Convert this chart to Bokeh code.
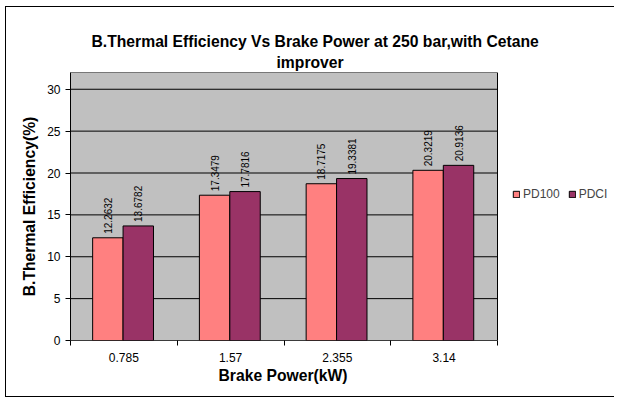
import math
from bokeh.plotting import figure
from bokeh.models import (ColumnDataSource, FixedTicker, Title, Legend, LegendItem,
                          Range1d)
from bokeh.core.properties import value
from bokeh.embed import file_html
from bokeh.resources import INLINE

categories = ["0.785", "1.57", "2.355", "3.14"]
pd100 = [12.2632, 17.3479, 18.7175, 20.3219]
pdci = [13.6782, 17.7816, 19.3381, 20.9136]
y_ticks = [0, 5, 10, 15, 20, 25, 30]
y_max = 32

BOLD_FONT = "Liberation Sans"
BOLD_SIZE = "15.7px"

n = len(categories)
PLOT_W = 427          # pixel width of the data area
EXTRA_W = 117         # room to the right for the legend
x_end = n * (PLOT_W + EXTRA_W) / PLOT_W

p = figure(frame_width=PLOT_W + EXTRA_W, frame_height=268, output_backend="svg",
           toolbar_location=None,
           x_range=Range1d(0, x_end), y_range=Range1d(0, y_max),
           min_border_left=64, min_border_right=0, min_border_top=65,
           min_border_bottom=56)
p.styles = {"margin-left": "5px", "margin-top": "6px",
            "border-left": "1px solid black", "border-top": "1px solid black",
            "border-bottom": "1px solid black"}
p.background_fill_color = "white"
p.border_fill_color = "white"
p.outline_line_color = None

# plot area: grey panel with black outline, and horizontal gridlines
p.quad(left=[0], right=[n], bottom=[0], top=[y_max], fill_color="#C0C0C0",
       line_color="black", line_width=1)
p.segment(x0=[0] * len(y_ticks), x1=[n] * len(y_ticks), y0=y_ticks, y1=y_ticks,
          line_color="black", line_width=1)

idx = list(range(n))
src = ColumnDataSource(dict(
    x1=[i + 0.35 for i in idx], x2=[i + 0.635 for i in idx],
    y1=pd100, y2=pdci,
    t1=[str(v) for v in pd100], t2=[str(v) for v in pdci]))

r1 = p.vbar(x="x1", top="y1", width=0.285, source=src, fill_color="#FF8080",
            line_color="black", line_width=1)
r2 = p.vbar(x="x2", top="y2", width=0.285, source=src, fill_color="#993366",
            line_color="black", line_width=1)

lbl_font = value("Liberation Sans")
p.text(x="x1", y="y1", text="t1", source=src, angle=math.pi / 2, text_align="left",
       text_baseline="middle", y_offset=-4, text_font_size="10px", text_font=lbl_font,
       text_color="black")
p.text(x="x2", y="y2", text="t2", source=src, angle=math.pi / 2, text_align="left",
       text_baseline="middle", y_offset=-4, text_font_size="10px", text_font=lbl_font,
       text_color="black")

p.xgrid.grid_line_color = None
p.ygrid.grid_line_color = None

# axes
p.yaxis.ticker = FixedTicker(ticks=y_ticks)
p.yaxis.major_tick_out = 5
p.yaxis.major_tick_in = 0
p.yaxis.minor_tick_line_color = None
p.yaxis.major_label_text_font = "Liberation Sans"
p.yaxis.major_label_text_font_size = "12px"
p.yaxis.axis_label = "B.Thermal Efficiency(%)"
p.yaxis.axis_label_text_font = BOLD_FONT
p.yaxis.axis_label_text_font_style = "bold"
p.yaxis.axis_label_text_font_size = BOLD_SIZE
p.yaxis.axis_label_standoff = 6
p.yaxis.axis_line_color = "black"

centers = [i + 0.5 for i in idx]
p.xaxis.ticker = FixedTicker(ticks=centers, minor_ticks=list(range(n + 1)))
p.xaxis.major_label_overrides = {c: lab for c, lab in zip(centers, categories)}
p.xaxis.axis_line_color = None
p.xaxis.major_tick_out = 0
p.xaxis.major_tick_in = 0
p.xaxis.minor_tick_out = 5
p.xaxis.minor_tick_in = 0
p.xaxis.minor_tick_line_color = "black"
p.xaxis.major_label_text_font = "Liberation Sans"
p.xaxis.major_label_text_font_size = "12px"
p.xaxis.major_label_standoff = 7
for ax in (p.xaxis[0], p.yaxis[0]):
    ax.major_tick_line_color = "black"
    ax.major_label_text_color = "black"
    ax.axis_label_text_color = "black"

# x-axis title, centred under the bar area
p.add_layout(Title(text="Brake Power(kW)", align="left", offset=148, standoff=0,
                   text_font=BOLD_FONT, text_font_style="bold",
                   text_font_size=BOLD_SIZE, text_color="black"), "below")

# two-line title: first line outermost, "improver" nearest the frame
p.title.text = "B.Thermal Efficiency Vs Brake Power at 250 bar,with Cetane"
p.title.align = "left"
p.title.offset = 21
p.title.standoff = 0
p.title.text_font = BOLD_FONT
p.title.text_font_style = "bold"
p.title.text_font_size = BOLD_SIZE
p.title.text_color = "black"
p.add_layout(Title(text="improver", align="left", offset=206, standoff=4,
                   text_font=BOLD_FONT, text_font_style="bold",
                   text_font_size=BOLD_SIZE, text_color="black"), "above")

legend = Legend(items=[LegendItem(label="PD100", renderers=[r1]),
                       LegendItem(label="PDCI", renderers=[r2])],
                orientation="horizontal", location=(PLOT_W + 15, 139),
                glyph_width=8, glyph_height=8, label_standoff=3, spacing=8,
                padding=0, margin=0, border_line_color=None,
                background_fill_alpha=0, label_text_font="Liberation Sans",
                label_text_font_size="12px", label_height=10)
p.add_layout(legend, "center")

open("out.html", "w").write(file_html(p, INLINE))
